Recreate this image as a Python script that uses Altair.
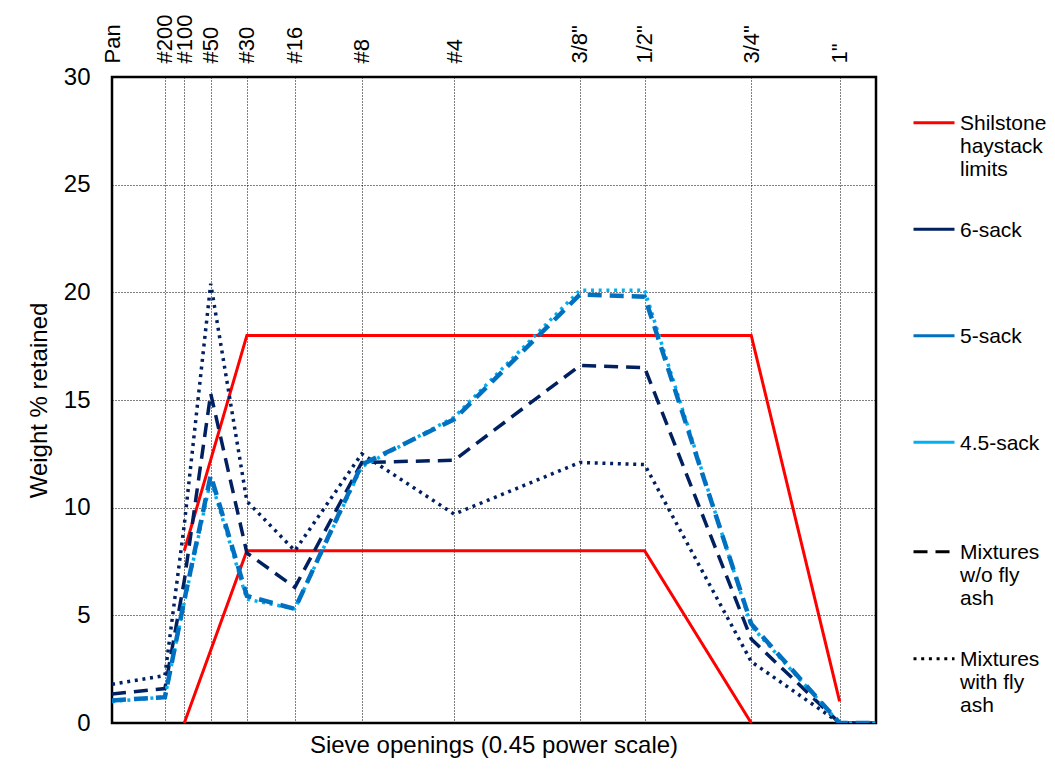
import json
import altair as alt
import pandas as pd

# ---------------- data ----------------
sieve_labels = ["Pan", "#200", "#100", "#50", "#30", "#16", "#8", "#4", '3/8"', '1/2"', '3/4"', '1"']
sieve_mm = [0, 0.075, 0.15, 0.3, 0.6, 1.18, 2.36, 4.75, 9.525, 12.7, 19.05, 25.4]
# series points: Pan ... 1", then 1.5" (38.1 mm)
series_mm = sieve_mm + [38.1]

six_sack_no_fa = [1.35, 1.6, 6.6, 15.3, 7.9, 6.3, 12.1, 12.2, 16.6, 16.5, 3.9, 0, 0]
six_sack_fa = [1.8, 2.2, 9.2, 20.4, 10.3, 8.0, 12.5, 9.7, 12.1, 12.0, 2.85, 0, 0]
five_sack_no_fa = [1.05, 1.2, 5.7, 11.5, 5.9, 5.3, 12.0, 14.1, 19.9, 19.8, 4.6, 0, 0]
four5_sack_fa = [1.0, 1.2, 5.6, 11.3, 5.75, 5.3, 11.9, 14.2, 20.1, 20.1, 4.5, 0, 0]

haystack_upper_mm = [0.15, 0.6, 19.05, 25.4]
haystack_upper_pct = [8, 18, 18, 1]
haystack_lower_mm = [0.15, 0.6, 12.7, 19.05]
haystack_lower_pct = [0, 8, 8, 0]

y_ticks = [0, 5, 10, 15, 20, 25, 30]

color_names = ["Shilstone haystack limits", "6-sack", "5-sack", "4.5-sack"]
color_values = ["#FF0000", "#002060", "#0070C0", "#00B0F0"]
color_label_lines = {
    "Shilstone haystack limits": ["Shilstone", "haystack", "limits"],
    "6-sack": ["6-sack", "", ""],
    "5-sack": ["5-sack", "", ""],
    "4.5-sack": ["4.5-sack", "", ""],
}
ash_names = ["Mixtures w/o fly ash", "Mixtures with fly ash"]
ash_dashes = [[14, 8], [3, 4.7]]
ash_label_lines = {
    "Mixtures w/o fly ash": ["Mixtures", "w/o fly", "ash"],
    "Mixtures with fly ash": ["Mixtures", "with fly", "ash"],
}

# series: (name, sack, ash, values, width)
series = [
    ("6-sack with FA", "6-sack", "Mixtures with fly ash", six_sack_fa, 3.5),
    ("6-sack w/o FA", "6-sack", "Mixtures w/o fly ash", six_sack_no_fa, 3.5),
    ("4.5-sack with FA", "4.5-sack", "Mixtures with fly ash", four5_sack_fa, 3.5),
    ("5-sack w/o FA", "5-sack", "Mixtures w/o fly ash", five_sack_no_fa, 4.5),
]

rows = []
for name, sack, ash, vals, _w in series:
    for m, v in zip(series_mm, vals):
        rows.append({"series": name, "sack": sack, "ash": ash, "mm": m, "pct": v})
mix = pd.DataFrame(rows)

hay_rows = []
for part, xs, ys in [("upper", haystack_upper_mm, haystack_upper_pct),
                     ("lower", haystack_lower_mm, haystack_lower_pct)]:
    for m, v in zip(xs, ys):
        hay_rows.append({"part": part, "sack": "Shilstone haystack limits", "mm": m, "pct": v})
hay = pd.DataFrame(hay_rows)

FONT = "Liberation Sans"
label_map = {str(v): l for v, l in zip(sieve_mm, sieve_labels)}

x_enc = alt.X(
    "mm:Q",
    scale=alt.Scale(type="pow", exponent=0.45, domain=[0, 28.31]),
    axis=alt.Axis(
        orient="top", values=sieve_mm, labelExpr=json.dumps(label_map) + "[datum.value]",
        labelAngle=-90, labelAlign="left", labelBaseline="middle", labelPadding=14,
        labelFontSize=22, labelFont=FONT, labelColor="black", labelOverlap=False,
        labelFlush=False, labelBound=False,
        ticks=False, domain=False, grid=True, gridColor="black", gridDash=[1, 2],
        gridWidth=1, title=None,
    ),
)
y_enc = alt.Y(
    "pct:Q",
    scale=alt.Scale(domain=[0, 30]),
    axis=alt.Axis(
        values=y_ticks, labelFontSize=24, labelFont=FONT, labelColor="black",
        labelPadding=22, labelFlush=False, ticks=False, domain=False, grid=True,
        gridColor="black", gridDash=[1, 2], gridWidth=1,
        title="Weight % retained", titleFontSize=24, titleFont=FONT,
        titleFontWeight="normal", titleColor="black", titlePadding=12,
    ),
)
color_enc = alt.Color(
    "sack:N",
    scale=alt.Scale(domain=color_names, range=color_values),
    legend=alt.Legend(
        orient="none", legendX=800, legendY=31, title=None, padding=0,
        symbolType="M-1,-0.35L1,-0.35", symbolSize=1681, symbolStrokeWidth=3,
        labelFontSize=21, labelFont=FONT, labelColor="black", labelBaseline="alphabetic",
        labelOffset=4, labelLimit=300, rowPadding=34.5,
        labelExpr=json.dumps(color_label_lines) + "[datum.label]",
    ),
)
dash_enc = alt.StrokeDash(
    "ash:N",
    scale=alt.Scale(domain=ash_names, range=ash_dashes),
    legend=alt.Legend(
        orient="none", legendX=800, legendY=460, title=None, padding=0,
        symbolType="M-1,-0.35L1,-0.35", symbolSize=1681, symbolStrokeWidth=3,
        symbolStrokeColor="black",
        labelFontSize=21, labelFont=FONT, labelColor="black", labelBaseline="alphabetic",
        labelOffset=4, labelLimit=300, rowPadding=35,
        labelExpr=json.dumps(ash_label_lines) + "[datum.label]",
    ),
)

hay_layer = alt.Chart(hay).mark_line(strokeWidth=3, clip=True).encode(
    x=x_enc, y=y_enc, color=color_enc, detail="part:N"
)

layers = [hay_layer]
for name, sack, ash, vals, w in series:
    layers.append(
        alt.Chart(mix).transform_filter(alt.datum.series == name)
        .mark_line(strokeWidth=w, strokeCap="butt", clip=True)
        .encode(x=x_enc, y=y_enc, color=color_enc, strokeDash=dash_enc)
    )

chart = alt.layer(*layers).properties(
    width=764, height=646,
    padding={"left": 112, "top": 77, "right": 179, "bottom": 47},
    autosize=alt.AutoSizeParams(type="none"),
    title=alt.TitleParams(
        text="Sieve openings (0.45 power scale)", orient="bottom", anchor="middle",
        fontSize=24, fontWeight="normal", font=FONT, color="black", offset=-1,
    ),
).configure(font=FONT).configure_view(stroke="black", strokeWidth=2.5)

chart.save("out.html", embed_options={"renderer": "svg", "actions": False})
